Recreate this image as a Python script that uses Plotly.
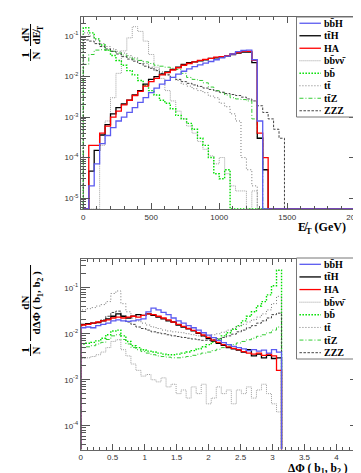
import plotly.graph_objects as go

W, H = 361, 473

# ---------------- top panel: missing ET, 40 GeV bins from 0 ----------------
met_bin_width = 40.0
met_nbins = 50
met_bbH = [0, 2e-5, 7e-5, 2.2e-4, 3.5e-4, 5.5e-4, 8e-4, 1.0e-3, 1.3e-3, 1.7e-3, 2.3e-3, 3.0e-3,
           4.0e-3, 5.2e-3, 6.5e-3, 8.0e-3, 9.5e-3, 1.15e-2, 1.35e-2, 1.55e-2, 1.75e-2, 1.95e-2,
           2.15e-2, 2.35e-2, 2.6e-2, 2.9e-2, 3.2e-2, 3.6e-2, 4.1e-2, 4.4e-2, 4.5e-2, 2.6e-2, 8e-4, 0]
met_ttH = [0, 4.6e-5, 1.5e-4, 3.6e-4, 6.5e-4, 1.2e-3, 1.7e-3, 2.1e-3, 2.6e-3, 3.5e-3, 4.5e-3, 6.5e-3,
           8.5e-3, 1.0e-2, 1.15e-2, 1.3e-2, 1.5e-2, 1.7e-2, 2.0e-2, 2.2e-2, 2.3e-2, 2.45e-2, 2.6e-2,
           2.8e-2, 2.9e-2, 3.0e-2, 3.2e-2, 3.5e-2, 3.8e-2, 4.0e-2, 4.0e-2, 2.2e-2, 3e-4, 5e-5]
met_HA = [0, 2e-4, 2e-4, 4e-4, 6e-4, 1.0e-3, 1.4e-3, 2.0e-3, 2.6e-3, 3.4e-3, 4.3e-3, 5.8e-3, 7.5e-3,
          9e-3, 1.1e-2, 1.25e-2, 1.45e-2, 1.65e-2, 1.9e-2, 2.1e-2, 2.3e-2, 2.5e-2, 2.65e-2, 2.8e-2,
          3.0e-2, 3.1e-2, 3.3e-2, 3.6e-2, 3.9e-2, 4.2e-2, 4.2e-2, 2.5e-2, 4e-4, 1e-4]
met_bbvv = [0, 0, 0, 2e-4, 8e-4, 3e-3, 1.2e-2, 4.3e-2, 9e-2, 0.17, 0.13, 0.075, 0.035, 0.017, 9e-3,
            4.5e-3, 2.5e-3, 1.4e-3, 9e-4, 6e-4, 4e-4, 2.5e-4, 1.6e-4, 1.1e-4, 7e-5, 1e-4, 4e-5, 2e-5,
            1.5e-5, 1.5e-5, 0, 1.5e-5]
met_bb = [0.16, 0.12, 0.085, 0.06, 0.045, 0.033, 0.025, 0.019, 0.014, 0.011, 8e-3, 6e-3, 4.5e-3,
          3.5e-3, 2.6e-3, 2.2e-3, 1.6e-3, 1.1e-3, 9e-4, 7e-4, 5e-4, 3e-4, 2e-4, 1e-4, 4e-5, 3e-5, 5e-5]
met_tt = [0.12, 0.1, 0.08, 0.065, 0.055, 0.048, 0.042, 0.038, 0.033, 0.029, 0.025, 0.021, 0.017,
          0.015, 0.013, 0.011, 0.0095, 0.008, 0.0065, 0.0058, 0.005, 0.0045, 0.004, 0.0033, 0.003,
          0.0022, 0.0018, 0.0012, 8e-4, 1e-4, 5e-5, 2e-5]
met_ttZ = [0.02, 0.035, 0.045, 0.046, 0.045, 0.042, 0.038, 0.034, 0.03, 0.027, 0.025, 0.023, 0.021,
           0.019, 0.018, 0.017, 0.016, 0.015, 0.012, 0.0095, 0.0085, 0.008, 0.007, 0.0055, 0.0045,
           0.004, 0.0035, 0.003, 0.0028, 0.0027, 0.0025, 9e-4, 3e-4]
met_ZZZ = [0.08, 0.075, 0.065, 0.055, 0.048, 0.042, 0.036, 0.031, 0.027, 0.024, 0.021, 0.018, 0.016,
           0.014, 0.012, 0.011, 0.0095, 0.0085, 0.0075, 0.0068, 0.0062, 0.0057, 0.0052, 0.0048,
           0.0044, 0.0041, 0.0038, 0.0036, 0.0034, 0.0031, 0.0028, 0.0025, 0.0019, 0.0013, 9e-4,
           5e-4, 3e-4]

# ---------------- bottom panel: delta phi(b1,b2), 40 bins over [0, pi] ----------------
dphi_max = 3.14159
dphi_nbins = 40
dphi_bbH = [0.0135, 0.014, 0.0135, 0.015, 0.016, 0.017, 0.019, 0.02, 0.019, 0.0185, 0.019, 0.02,
            0.021, 0.03, 0.036, 0.033, 0.029, 0.026, 0.022, 0.019, 0.017, 0.015, 0.0135, 0.012,
            0.0105, 0.0093, 0.0082, 0.0072, 0.0064, 0.0058, 0.0053, 0.005, 0.0047, 0.0043, 0.0045,
            0.0042, 0.0044, 0.0038, 0.0045, 0.004]
dphi_ttH = [0.016, 0.0165, 0.017, 0.0175, 0.019, 0.021, 0.024, 0.027, 0.024, 0.022, 0.024, 0.026,
            0.025, 0.027, 0.025, 0.023, 0.021, 0.019, 0.018, 0.0155, 0.014, 0.0128, 0.0115, 0.0102,
            0.009, 0.0078, 0.0069, 0.0062, 0.0056, 0.005, 0.0047, 0.0044, 0.004, 0.0045, 0.0033,
            0.0036, 0.003, 0.0034, 0.0029, 0.003]
dphi_HA = [0.0155, 0.016, 0.017, 0.018, 0.019, 0.02, 0.022, 0.023, 0.022, 0.023, 0.024, 0.023,
           0.025, 0.027, 0.026, 0.024, 0.022, 0.02, 0.018, 0.016, 0.0145, 0.013, 0.0118, 0.0105,
           0.0094, 0.0083, 0.0073, 0.0065, 0.0058, 0.0052, 0.0048, 0.0045, 0.0041, 0.0038, 0.0036,
           0.0038, 0.0034, 0.0036, 0.0033, 0.0016]
dphi_bbvv = [0.0029, 0.003, 0.0032, 0.0035, 0.004, 0.005, 0.0068, 0.0074, 0.0045, 0.0033, 0.0022,
             0.0016, 0.0012, 0.0013, 0.001, 0.0009, 0.0011, 0.0007, 0.0008, 0.0005, 0.0006, 0.0004,
             0.0007, 0.0005, 0.0008, 0.0003, 0.0004, 0.0007, 0.0005, 0.0006, 0.0003, 0.0006, 0.0005,
             0.0007, 0.0004, 0.0006, 0.0008, 0.0005, 0.0003, 0.0002]
dphi_bb = [0.006, 0.0062, 0.0065, 0.007, 0.008, 0.0095, 0.0115, 0.012, 0.009, 0.0068, 0.0055, 0.005,
           0.0045, 0.0042, 0.004, 0.0038, 0.0036, 0.0035, 0.0035, 0.0036, 0.0038, 0.004, 0.0043,
           0.0047, 0.0052, 0.0058, 0.0066, 0.0076, 0.009, 0.0105, 0.0125, 0.015, 0.019, 0.024, 0.03,
           0.04, 0.05, 0.07, 0.11, 0.24]
dphi_tt = [0.033, 0.035, 0.037, 0.04, 0.043, 0.05, 0.075, 0.085, 0.045, 0.03, 0.022, 0.019, 0.017,
           0.0155, 0.014, 0.013, 0.012, 0.0115, 0.011, 0.0108, 0.0105, 0.01, 0.0095, 0.009,
           0.0088, 0.009, 0.0095, 0.01, 0.0108, 0.012, 0.013, 0.0145, 0.016, 0.018, 0.02, 0.023,
           0.027, 0.033, 0.045, 0.065]
dphi_ttZ = [0.005, 0.0052, 0.0055, 0.006, 0.0065, 0.0075, 0.009, 0.0095, 0.0075, 0.006, 0.005,
            0.0045, 0.0041, 0.0038, 0.0035, 0.0033, 0.0032, 0.0031, 0.003, 0.003, 0.0031, 0.0032,
            0.0034, 0.0036, 0.0038, 0.004, 0.0043, 0.0046, 0.005, 0.0054, 0.0058, 0.0063, 0.0068,
            0.0074, 0.008, 0.0088, 0.0095, 0.0105, 0.012, 0.014]
dphi_ZZZ = [0.015, 0.016, 0.017, 0.018, 0.02, 0.024, 0.029, 0.031, 0.024, 0.018, 0.016, 0.014, 0.013,
            0.012, 0.011, 0.0105, 0.01, 0.0095, 0.009, 0.0087, 0.0083, 0.008, 0.0077, 0.0074, 0.0072,
            0.0072, 0.0074, 0.0078, 0.0083, 0.009, 0.0098, 0.011, 0.012, 0.0135, 0.015, 0.017, 0.019,
            0.022, 0.026, 0.028]

labels = ["bb\u0304H", "tt\u0304H", "HA", "bb\u0304\u03bd\u03bd\u0304", "bb\u0304", "tt\u0304",
          "tt\u0304Z", "ZZZ"]

styles = [
    dict(color="#5b5bf0", width=1.3, dash="solid"),
    dict(color="#000000", width=1.3, dash="solid"),
    dict(color="#ff0000", width=1.3, dash="solid"),
    dict(color="#a0a0a0", width=1.0, dash="1px,1px"),
    dict(color="#00e000", width=1.4, dash="1.5px,1.5px"),
    dict(color="#777777", width=1.0, dash="1px,2px"),
    dict(color="#33cc33", width=1.0, dash="4px,2px,1px,2px"),
    dict(color="#444444", width=1.0, dash="2.5px,1.5px"),
]

TOP_YR = [-5.27, -0.53]
BOT_YR = [-4.515, -0.376]


def step_xy(edges, vals, floor):
    v = [x if x > 0 else floor for x in vals]
    xs = [edges[0]] + list(edges[:-1]) + [edges[-1], edges[-1]]
    ys = [floor] + v + [v[-1], floor]
    return xs, ys


fig = go.Figure()

met_edges = [i * met_bin_width for i in range(met_nbins + 1)]
dphi_edges = [i * dphi_max / dphi_nbins for i in range(dphi_nbins + 1)]
top_series = [met_bbH, met_ttH, met_HA, met_bbvv, met_bb, met_tt, met_ttZ, met_ZZZ]
bot_series = [dphi_bbH, dphi_ttH, dphi_HA, dphi_bbvv, dphi_bb, dphi_tt, dphi_ttZ, dphi_ZZZ]
draw_order = [3, 4, 5, 6, 7, 1, 2, 0]

top_floor = 10 ** TOP_YR[0]
bot_floor = 10 ** BOT_YR[0]
for k in draw_order:
    vals = top_series[k] + [0] * (met_nbins - len(top_series[k]))
    xs, ys = step_xy(met_edges, vals, top_floor)
    fig.add_trace(go.Scatter(x=xs, y=ys, mode="lines", line_shape="hv", line=styles[k],
                             xaxis="x", yaxis="y", hoverinfo="skip", showlegend=False))
for k in draw_order:
    xs, ys = step_xy(dphi_edges, bot_series[k], bot_floor)
    fig.add_trace(go.Scatter(x=xs, y=ys, mode="lines", line_shape="hv", line=styles[k],
                             xaxis="x2", yaxis="y2", hoverinfo="skip", showlegend=False))


def px(x):
    return x / W


def py(y):
    return 1 - y / H


axis_base = dict(showline=True, linecolor="#666666", linewidth=1, mirror="ticks", ticks="inside",
                 tickcolor="#555555", tickwidth=1, showgrid=False, zeroline=False,
                 ticklabeloverflow="allow",
                 tickfont=dict(family="Liberation Sans, Arial", size=8, color="#333333"))

dec_top = [-5, -4, -3, -2, -1]
dec_bot = [-4, -3, -2, -1]


def log_minor(decs):
    out = []
    for d in range(decs[0] - 1, decs[-1] + 1):
        for m in range(2, 10):
            out.append(m * 10 ** d)
    return out


fig.update_layout(
    width=W, height=H, margin=dict(l=0, r=0, t=0, b=0),
    paper_bgcolor="white", plot_bgcolor="white", showlegend=False,
    xaxis=dict(axis_base, domain=[px(72.7), px(356)], anchor="y", range=[-16.5, 2022],
               tickvals=[0, 500, 1000, 1500, 2000], ticklen=6,
               minor=dict(tickvals=[v for v in range(0, 2001, 100) if v % 500], ticklen=3,
                          ticks="inside", tickcolor="#555555")),
    yaxis=dict(axis_base, domain=[py(201), py(9)], anchor="x", type="log", range=TOP_YR,
               tickvals=[10 ** d for d in dec_top],
               ticktext=["10<sup>%d</sup>" % d for d in dec_top], ticklen=9,
               minor=dict(tickvals=log_minor(dec_top), ticklen=5, ticks="inside",
                          tickcolor="#555555")),
    xaxis2=dict(axis_base, domain=[px(72.3), px(356.7)], anchor="y2", range=[0, 4.35],
                tickvals=[0, 0.5, 1, 1.5, 2, 2.5, 3, 3.5, 4],
                ticktext=["0", "0.5", "1", "1.5", "2", "2.5", "3", "3.5", "4"], ticklen=6,
                minor=dict(tickvals=[i / 10 for i in range(0, 44) if i % 5], ticklen=3,
                           ticks="inside", tickcolor="#555555")),
    yaxis2=dict(axis_base, domain=[py(441.5), py(251)], anchor="x2", type="log", range=BOT_YR,
                tickvals=[10 ** d for d in dec_bot],
                ticktext=["10<sup>%d</sup>" % d for d in dec_bot], ticklen=9,
                minor=dict(tickvals=log_minor(dec_bot), ticklen=5, ticks="inside",
                           tickcolor="#555555")),
)

serif = "Liberation Serif, DejaVu Serif, Times New Roman"
ann = []
shapes = []


def label(x, cy, s, size=11, align="left"):
    """Horizontal text; x = left/right edge, cy = vertical centre."""
    ann.append(dict(x=px(x), y=py(cy), xref="paper", yref="paper", text="<b>%s</b>" % s,
                    showarrow=False, xanchor=align, yanchor="middle", align=align,
                    borderpad=0, borderwidth=0,
                    font=dict(family=serif, size=size, color="black")))


def vlabel(cx, cy, s, size=11):
    """Text rotated -90 centred on (cx, cy)."""
    ann.append(dict(x=px(cx), y=py(cy), xref="paper", yref="paper", text="<b>%s</b>" % s,
                    showarrow=False, textangle=-90, xanchor="center", yanchor="middle",
                    borderpad=0, borderwidth=0,
                    font=dict(family=serif, size=size, color="black")))


def seg(x0, y0, x1, y1, color="black", width=1, dash="solid"):
    shapes.append(dict(type="line", xref="paper", yref="paper", x0=px(x0), y0=py(y0),
                       x1=px(x1), y1=py(y1), line=dict(color=color, width=width, dash=dash),
                       layer="above"))


# axis titles (left-anchored)
label(295, 220, "E\u0338<sub>T</sub> (GeV)", size=12, align="left")
label(284, 460.5, "\u0394\u03a6 ( b<sub>1</sub>, b<sub>2</sub> )", size=11.5, align="left")

# y titles as rotated fractions
vlabel(15, 47, "1")
vlabel(27, 47, "N")
seg(21, 41, 21, 53)
vlabel(15, 27, "dN")
vlabel(28, 27, "dE\u0338<sub>T</sub>")
seg(21, 16, 21, 38)

vlabel(15, 342, "1")
vlabel(27, 342, "N")
seg(21, 336, 21, 348)
vlabel(15, 295, "dN")
vlabel(28, 295, "d\u0394\u03a6 ( b<sub>1</sub>, b<sub>2</sub> )")
seg(21, 257, 21, 333)

# legends
for (bx0, by0, bx1, by1) in [(293, 9, 355, 109), (293, 250, 356, 351)]:
    shapes.append(dict(type="rect", xref="paper", yref="paper", x0=px(bx0), y0=py(by0),
                       x1=px(bx1), y1=py(by1), line=dict(color="#777777", width=1),
                       fillcolor="white", layer="above"))
    step = (by1 - by0) / 8.0
    for i, lab in enumerate(labels):
        yy = by0 + step * (i + 0.5)
        st = styles[i]
        seg(296, yy, 318, yy, color=st["color"], width=st["width"], dash=st["dash"])
        label(321, yy, lab, size=10, align="left")

fig.update_layout(annotations=ann, shapes=shapes)
fig.write_html("out.html")
